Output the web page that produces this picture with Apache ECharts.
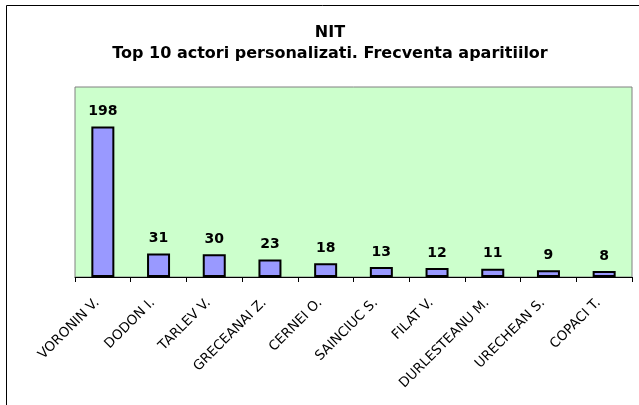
<!DOCTYPE html>
<html>
<head>
<meta charset="utf-8">
<script src="https://cdn.jsdelivr.net/npm/echarts@6/dist/echarts.min.js"></script>
<style>
  html, body { margin: 0; padding: 0; background: #fff; }
  #main { width: 639px; height: 405px; }
</style>
</head>
<body>
<div id="main"></div>
<script>
// actori si numarul de aparitii
const actori = ['VORONIN V.', 'DODON I.', 'TARLEV V.', 'GRECEANAI Z.', 'CERNEI O.',
  'SAINCIUC S.', 'FILAT V.', 'DURLESTEANU M.', 'URECHEAN S.', 'COPACI T.'];
const aparitii = [198, 31, 30, 23, 18, 13, 12, 11, 9, 8];

const font = 'DejaVu Sans, Verdana, sans-serif';

const chart = echarts.init(document.getElementById('main'));
chart.setOption({
  backgroundColor: '#fff',
  animation: false,
  title: {
    text: 'NIT\nTop 10 actori personalizati. Frecventa aparitiilor',
    left: 325,
    top: 17,
    textAlign: 'center',
    textStyle: {
      fontFamily: font,
      fontSize: 16,
      fontWeight: 'bold',
      color: '#000',
      lineHeight: 21
    }
  },
  graphic: [{
    type: 'polyline',
    shape: { points: [[6.5, 405], [6.5, 5.5], [639, 5.5]] },
    style: { stroke: '#000', lineWidth: 1, fill: null }
  }],
  grid: {
    left: 75,
    top: 87,
    right: 7,
    bottom: 128,
    show: true,
    backgroundColor: '#CCFFCC',
    borderColor: '#808080',
    borderWidth: 1
  },
  xAxis: {
    type: 'category',
    data: actori,
    axisLine: { lineStyle: { color: '#000', width: 1 } },
    axisTick: { show: true, length: 5, lineStyle: { color: '#000' } },
    axisLabel: {
      rotate: 45,
      margin: 18,
      padding: [0, 8, 0, 0],
      interval: 0,
      fontFamily: font,
      fontSize: 13.5,
      color: '#000'
    }
  },
  yAxis: {
    type: 'value',
    min: 0,
    max: 250,
    show: false,
    splitLine: { show: false }
  },
  series: [{
    type: 'bar',
    data: aparitii,
    barWidth: 23,
    itemStyle: { color: '#9999FF', borderColor: '#000', borderWidth: 2 },
    label: {
      show: true,
      position: 'top',
      distance: 8,
      fontFamily: font,
      fontSize: 14,
      fontWeight: 'bold',
      color: '#000'
    }
  }]
});
</script>
</body>
</html>
